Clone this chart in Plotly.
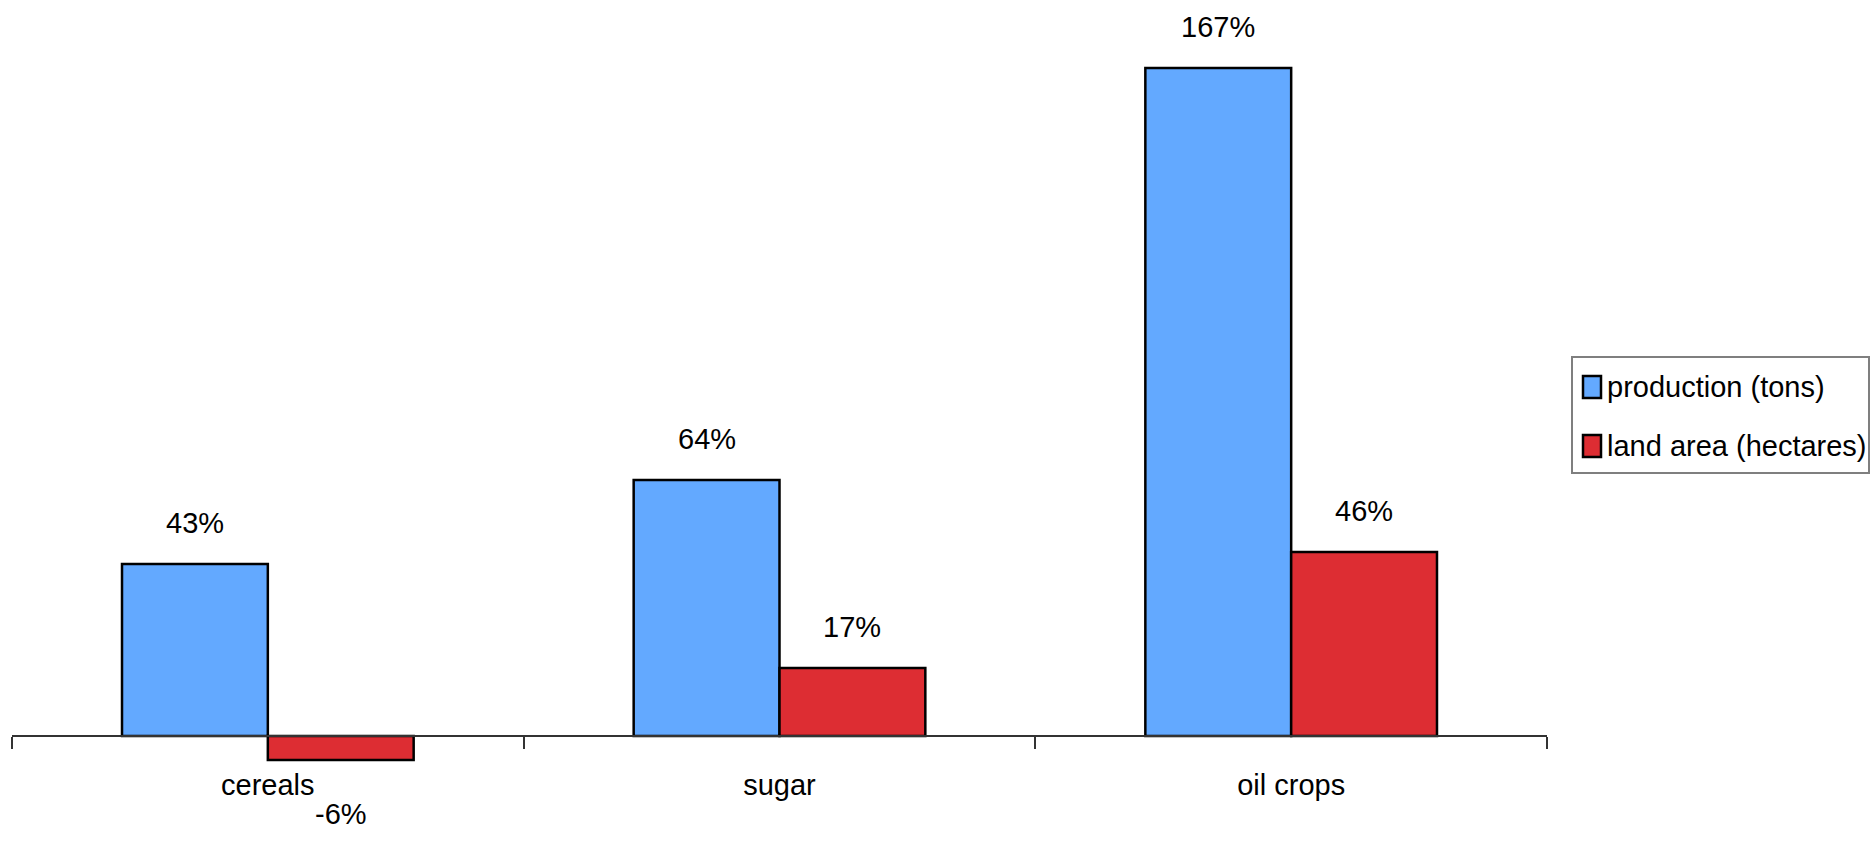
import plotly.graph_objects as go

# Percentage change by crop group
categories = ["cereals", "sugar", "oil crops"]
production = [43, 64, 167]
land_area = [-6, 17, 46]
series_names = ["production (tons)", "land area (hectares)"]
series_colors = ["#63A9FF", "#DD2D33"]

W, H = 1873, 846
ML, MR, MT, MB = 12, 326, 0, 0
FONT = "Liberation Sans, Arial, sans-serif"
FSIZE = 29

Y_MIN, Y_MAX = -27.5, 184
BARGAP = 0.43
half_bar = (1 - BARGAP) / 4  # centre of each bar relative to its category

fig = go.Figure()
for name, vals, col in zip(series_names, [production, land_area], series_colors):
    fig.add_trace(go.Bar(
        x=categories, y=vals, name=name,
        marker=dict(color=col, line=dict(color="#000000", width=2.5)),
        showlegend=False,
    ))

# value labels above (or below) each bar
annotations = []
for s, vals in enumerate([production, land_area]):
    off = -half_bar if s == 0 else half_bar
    for i, v in enumerate(vals):
        annotations.append(dict(
            x=i + off, y=v, xref="x", yref="y",
            text=f"{v}%", showarrow=False,
            xanchor="center", yanchor="middle",
            yshift=41 if v >= 0 else -54,
            font=dict(family=FONT, size=FSIZE, color="#000000"),
        ))

# boxed legend on the right (paper coordinates span the plot area)
def px_x(p):
    return (p - ML) / (W - ML - MR)

def px_y(p):
    return 1 - (p - MT) / (H - MT - MB)

shapes = [dict(
    type="rect", xref="paper", yref="paper",
    x0=px_x(1572), x1=px_x(1869), y0=px_y(473), y1=px_y(357),
    line=dict(color="#7F7F7F", width=2), fillcolor="rgba(0,0,0,0)",
)]
row_centres = [387, 446]
for name, col, yc in zip(series_names, series_colors, row_centres):
    shapes.append(dict(
        type="rect", xref="paper", yref="paper",
        x0=px_x(1583), x1=px_x(1601), y0=px_y(yc + 11), y1=px_y(yc - 11),
        line=dict(color="#000000", width=2.5), fillcolor=col,
    ))
    annotations.append(dict(
        x=px_x(1605), y=px_y(yc), xref="paper", yref="paper",
        text=name, showarrow=False, xanchor="left", yanchor="middle",
        font=dict(family=FONT, size=FSIZE, color="#000000"),
    ))

fig.update_layout(
    width=W, height=H,
    margin=dict(l=ML, r=MR, t=MT, b=MB),
    paper_bgcolor="#FFFFFF", plot_bgcolor="#FFFFFF",
    barmode="group", bargap=BARGAP, bargroupgap=0,
    font=dict(family=FONT, size=FSIZE, color="#000000"),
    annotations=annotations, shapes=shapes,
    xaxis=dict(
        type="category", range=[-0.5, 2.5],
        anchor="free", position=(0 - Y_MIN) / (Y_MAX - Y_MIN),
        showline=True, linecolor="#333333", linewidth=1.5,
        ticks="outside", tickson="boundaries", ticklen=12,
        tickcolor="#333333", tickwidth=1.5,
        showgrid=False, zeroline=False, automargin=False,
        ticklabelstandoff=23,
        tickfont=dict(family=FONT, size=FSIZE, color="#000000"),
    ),
    yaxis=dict(range=[Y_MIN, Y_MAX], visible=False, showgrid=False, zeroline=False),
)

fig.write_html("out.html")
